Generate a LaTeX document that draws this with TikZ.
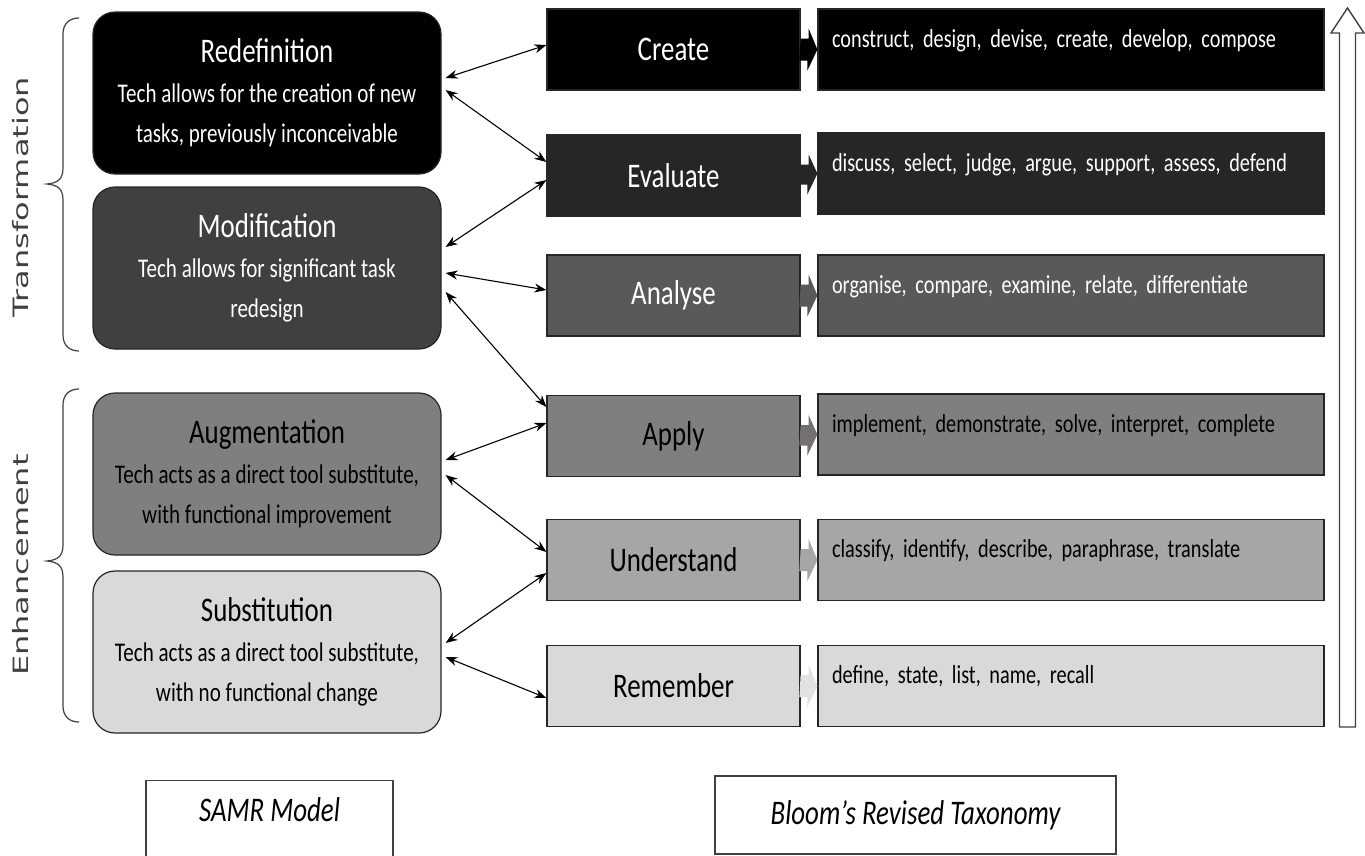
\documentclass[tikz,border=0pt]{standalone}
\usepackage{fontspec}
\setmainfont{Carlito}[FakeStretch=0.78]
\newfontfamily\verbfont{Carlito}[FakeStretch=0.78, WordSpace=0.75]
\newfontfamily\sidefont{DejaVu Sans}
\usetikzlibrary{arrows.meta,calc}
\definecolor{cA}{HTML}{000000}
\definecolor{cB}{HTML}{262626}
\definecolor{cM}{HTML}{404040}
\definecolor{cC}{HTML}{595959}
\definecolor{cD}{HTML}{7F7F7F}
\definecolor{cE}{HTML}{A6A6A6}
\definecolor{cF}{HTML}{D9D9D9}
\definecolor{arD}{HTML}{767171}
\definecolor{arF}{HTML}{E2E2E2}
\definecolor{edge}{HTML}{262626}
\definecolor{sidegray}{HTML}{404040}
\newcommand{\samrtitle}[1]{{\fontsize{34.5}{40}\selectfont #1}}
\begin{document}
\begin{tikzpicture}[x=1pt,y=-1pt,
  samr/.style={draw=edge, line width=1.2pt, rounded corners=22pt, minimum width=348pt, minimum height=162pt, align=center, inner sep=0pt, font=\fontsize{27}{40}\selectfont},
  bloom/.style={draw=edge, line width=1.2pt, minimum width=253pt, minimum height=81pt, inner sep=0pt, font=\fontsize{34.5}{38}\selectfont},
  verbs/.style={draw=edge, line width=1.2pt, inner xsep=14pt, inner ysep=0pt, text width=478pt, text height=38pt, text depth=43pt, align=left, font=\verbfont\fontsize{26}{30}\selectfont},
  link/.style={line width=1.1pt, {Stealth[length=12pt,width=9pt]}-{Stealth[length=12pt,width=9pt]}},
  side/.style={sidegray, line width=1.2pt},
  caption/.style={draw=sidegray, line width=1.3pt, fill=white, inner sep=0pt, font=\fontsize{34.5}{36}\selectfont\itshape}
]
\clip (0,0) rectangle (1365,855);
\fill[white] (0,0) rectangle (1365,855);

% SAMR boxes
\node[samr, fill=cA, text=white] (redef) at (267,93) {\samrtitle{Redefinition}\\Tech allows for the creation of new\\tasks, previously inconceivable};
\node[samr, fill=cM, text=white] (modif) at (267,268) {\samrtitle{Modification}\\Tech allows for significant task\\redesign};
\node[samr, fill=cD, text=black] (augm) at (267,474) {\samrtitle{Augmentation}\\Tech acts as a direct tool substitute,\\with functional improvement};
\node[samr, fill=cF, text=black] (subst) at (267,652) {\samrtitle{Substitution}\\Tech acts as a direct tool substitute,\\with no functional change};

% Bloom boxes
\node[bloom, fill=cA, text=white] (create) at (673.5,49.5) {Create};
\node[bloom, fill=cB, text=white] (evaluate) at (673.5,175.5) {Evaluate};
\node[bloom, fill=cC, text=white] (analyse) at (673.5,295.5) {Analyse};
\node[bloom, fill=cD, text=black] (apply) at (673.5,436) {Apply};
\node[bloom, fill=cE, text=black] (understand) at (673.5,560) {Understand};
\node[bloom, fill=cF, text=black] (remember) at (673.5,686) {Remember};

% Verb boxes
\node[verbs, fill=cA, text=white] (vcreate) at (1071,49.5) {construct, design, devise, create, develop, compose};
\node[verbs, fill=cB, text=white] (vevaluate) at (1071,173.5) {discuss, select, judge, argue, support, assess, defend};
\node[verbs, fill=cC, text=white] (vanalyse) at (1071,295.5) {organise, compare, examine, relate, differentiate};
\node[verbs, fill=cD, text=black] (vapply) at (1071,434.5) {implement, demonstrate, solve, interpret, complete};
\node[verbs, fill=cE, text=black] (vunderstand) at (1071,560) {classify, identify, describe, paraphrase, translate};
\node[verbs, fill=cF, text=black] (vremember) at (1071,686) {define, state, list, name, recall};

% block arrows
\foreach \a/\b/\c in {create/vcreate/cA, evaluate/vevaluate/cB, analyse/vanalyse/cC, apply/vapply/arD, understand/vunderstand/cE, remember/vremember/arF}{
  \fill[\c] (\a.east) ++(0,-11) -- ++(8,0) -- ++(0,-10) -- (\b.west) -- ++(-10,21) -- ++(0,-10) -- ++(-8,0) -- cycle;
}

% double-headed links
\draw[link] ($(redef.east |- 0,78)+(4,0)$) -- (create.west |- 0,45);
\draw[link] ($(redef.east |- 0,90)+(4,0)$) -- (evaluate.west |- 0,162);
\draw[link] ($(modif.east |- 0,247)+(4,0)$) -- (evaluate.west |- 0,180);
\draw[link] ($(modif.east |- 0,273)+(4,0)$) -- (analyse.west |- 0,290);
\draw[link] ($(modif.east |- 0,292)+(4,0)$) -- (apply.west |- 0,407);
\draw[link] ($(augm.east |- 0,460)+(4,0)$) -- (apply.west |- 0,423);
\draw[link] ($(augm.east |- 0,475)+(4,0)$) -- (understand.west |- 0,552);
\draw[link] ($(subst.east |- 0,643)+(4,0)$) -- (understand.west |- 0,573);
\draw[link] ($(subst.east |- 0,657)+(4,0)$) -- (remember.west |- 0,698);

% braces
\draw[side] (79,18) .. controls (69,18) and (63,24) .. (63,34) -- (63,168) .. controls (63,179) and (58,183) .. (47,184) .. controls (58,185) and (63,189) .. (63,200) -- (63,335) .. controls (63,345) and (69,351) .. (79,351);
\draw[side] (79,389) .. controls (69,389) and (63,395) .. (63,405) -- (63,545) .. controls (63,556) and (58,560) .. (47,561) .. controls (58,562) and (63,566) .. (63,577) -- (63,706) .. controls (63,716) and (69,722) .. (79,722);
\node[rotate=90, text=sidegray, inner sep=0pt] (transf) at (21,197) {\sidefont\fontsize{32}{36}\selectfont\scalebox{1}[0.66]{Transformation}};
\node[rotate=90, text=sidegray, inner sep=0pt] (enh) at (21,565) {\sidefont\fontsize{32}{36}\selectfont\scalebox{1}[0.66]{Enhancement}};

% big up arrow
\draw[draw=sidegray, line width=1.4pt, fill=white] (1339.5,727) -- (1339.5,33) -- (1331,33) -- (1347.5,8) -- (1364,33) -- (1355.5,33) -- (1355.5,727) -- cycle;

% captions
\node[caption, minimum width=247pt, anchor=north, text height=41pt, text depth=50pt] (samrcap) at (269.5,780) {SAMR Model};
\node[caption, minimum width=401pt, minimum height=78pt] (bloomcap) at (915.5,815) {Bloom’s Revised Taxonomy};
\end{tikzpicture}
\end{document}
